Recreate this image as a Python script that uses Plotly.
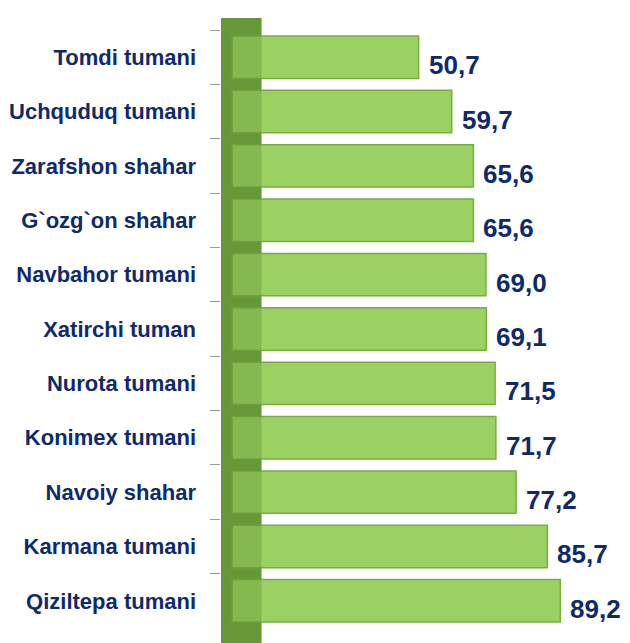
import plotly.graph_objects as go

categories = ["Tomdi tumani", "Uchquduq tumani", "Zarafshon shahar", "G`ozg`on shahar",
              "Navbahor tumani", "Xatirchi tuman", "Nurota tumani", "Konimex tumani",
              "Navoiy shahar", "Karmana tumani", "Qiziltepa tumani"]
values = [50.7, 59.7, 65.6, 65.6, 69.0, 69.1, 71.5, 71.7, 77.2, 85.7, 89.2]
value_labels = ["50,7", "59,7", "65,6", "65,6", "69,0", "69,1", "71,5", "71,7", "77,2", "85,7", "89,2"]

navy = "#0E2A6B"

fig = go.Figure()
fig.add_trace(go.Bar(
    y=categories, x=values, orientation="h",
    marker=dict(color="#9BD162", line=dict(color="#79AC45", width=1.5)),
    width=0.78, showlegend=False, hoverinfo="skip",
))

for c, v, t in zip(categories, values, value_labels):
    fig.add_annotation(x=v, y=c, text="<b>%s</b>" % t, showarrow=False,
                       xanchor="left", yanchor="middle", xshift=8, yshift=-8,
                       font=dict(family="Liberation Sans, Arial", size=26, color=navy))

# back wall
fig.add_shape(type="rect", xref="x", yref="paper", x0=-3, x1=8, y0=-0.03, y1=1.02,
              fillcolor="#6F9E3E", line=dict(width=0), layer="below")
fig.add_shape(type="rect", xref="x", yref="paper", x0=-3, x1=8, y0=-0.03, y1=1.02,
              fillcolor="rgba(90,140,45,0.35)", line=dict(width=0), layer="above")

fig.update_layout(
    width=622, height=635,
    margin=dict(l=213, r=30, t=22, b=15),
    paper_bgcolor="white", plot_bgcolor="white",
    bargap=0.2,
    xaxis=dict(range=[-3, 100], visible=False, automargin=False),
    yaxis=dict(autorange="reversed", type="category", tickson="boundaries",
               ticks="outside", ticklen=10, tickcolor="#999999", automargin=False,
               showline=False, showgrid=False, ticklabelstandoff=24,
               tickfont=dict(family="Liberation Sans, Arial",
                             size=22, color=navy, weight="bold")),
)

fig.write_html("out.html")
